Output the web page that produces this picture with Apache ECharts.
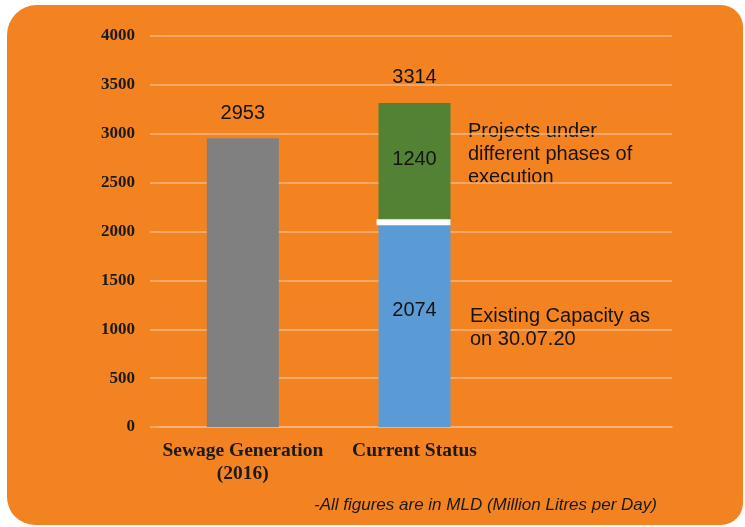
<!DOCTYPE html>
<html>
<head>
<meta charset="utf-8">
<script src="https://cdn.jsdelivr.net/npm/echarts@6/dist/echarts.min.js"></script>
<style>
  html, body { margin: 0; padding: 0; background: #fff; }
  #main { width: 745px; height: 527px; }
</style>
</head>
<body>
<div id="main"></div>
<script>
// data
const categories = ['Sewage Generation\n(2016)', 'Current Status', '']
const generation = [2953, '-', '-']
const existing = ['-', 2074, '-']
const projects = ['-', 1240, '-']
const totals = ['-', 3314, '-']
const yTicks = [0, 500, 1000, 1500, 2000, 2500, 3000, 3500, 4000]

const chart = echarts.init(document.getElementById('main'))
const gridColor = '#f5b47e'
const barW = 72
const sans = '"Liberation Sans", Arial, sans-serif'
const serif = '"Liberation Serif", "Times New Roman", serif'

const option = {
  animation: false,
  graphic: [
    {
      type: 'rect',
      z: -10,
      shape: { x: 7, y: 5, width: 736, height: 520, r: [30, 22, 22, 28] },
      style: { fill: '#f38221' }
    },
    {
      type: 'text',
      left: 468,
      top: 120,
      style: {
        text: 'Projects under\ndifferent phases of\nexecution',
        font: '20px ' + sans,
        lineHeight: 23,
        fill: '#141414'
      }
    },
    {
      type: 'text',
      left: 470,
      top: 305,
      style: {
        text: 'Existing Capacity as\non 30.07.20',
        font: '20px ' + sans,
        lineHeight: 23,
        fill: '#141414'
      }
    },
    {
      type: 'text',
      left: 314,
      top: 497,
      style: {
        text: '-All figures are in MLD (Million Litres per Day)',
        font: 'italic 17px ' + sans,
        fill: '#1a1a1a'
      }
    }
  ],
  grid: { left: 157, right: 73, top: 36, bottom: 100 },
  xAxis: {
    type: 'category',
    data: categories,
    axisTick: { show: false },
    axisLine: { lineStyle: { color: gridColor, width: 1.5 } },
    axisLabel: {
      margin: 12,
      color: '#1a1a1a',
      fontFamily: serif,
      fontWeight: 'bold',
      fontSize: 19.5,
      lineHeight: 23,
      interval: 0
    }
  },
  yAxis: {
    type: 'value',
    min: yTicks[0],
    max: yTicks[yTicks.length - 1],
    interval: 500,
    axisLine: { show: false },
    axisTick: { show: true, length: 7, lineStyle: { color: gridColor, width: 1.5 } },
    splitLine: { lineStyle: { color: gridColor, width: 1.5 } },
    axisLabel: {
      margin: 22,
      color: '#1a1a1a',
      fontFamily: serif,
      fontWeight: 'bold',
      fontSize: 17,
      formatter: function (v) { return String(v) }
    }
  },
  series: [
    {
      name: 'Sewage Generation',
      type: 'bar',
      stack: 'a',
      barWidth: barW,
      data: generation,
      itemStyle: { color: '#808080' },
      label: {
        show: true,
        position: 'top',
        distance: 15,
        color: '#141414',
        fontSize: 20,
        fontFamily: sans
      }
    },
    {
      name: 'Existing',
      type: 'bar',
      stack: 'a',
      barWidth: barW,
      data: existing,
      itemStyle: { color: '#5b9bd5' },
      label: {
        show: true,
        position: 'inside',
        offset: [0, -15],
        color: '#141414',
        fontSize: 20,
        fontFamily: sans
      }
    },
    {
      name: 'Projects',
      type: 'bar',
      stack: 'a',
      barWidth: barW,
      data: projects,
      itemStyle: { color: '#548235' },
      label: {
        show: true,
        position: 'inside',
        offset: [0, -4],
        color: '#141414',
        fontSize: 20,
        fontFamily: sans
      }
    },
    {
      // 堆叠总数标签
      name: 'Total',
      type: 'bar',
      barWidth: barW,
      barGap: '-100%',
      data: totals,
      z: 0,
      itemStyle: { color: 'transparent' },
      label: {
        show: true,
        position: 'top',
        distance: 16,
        color: '#141414',
        fontSize: 20,
        fontFamily: sans
      }
    },
    {
      // white separator between the two stacked parts
      type: 'custom',
      z: 5,
      data: [[1, existing[1]]],
      renderItem: function (params, api) {
        const p = api.coord([api.value(0), api.value(1)])
        return {
          type: 'rect',
          shape: { x: p[0] - barW / 2 - 2, y: p[1] - 5, width: barW + 2, height: 6 },
          style: { fill: '#ffffff' }
        }
      }
    }
  ]
}
chart.setOption(option)
</script>
</body>
</html>
